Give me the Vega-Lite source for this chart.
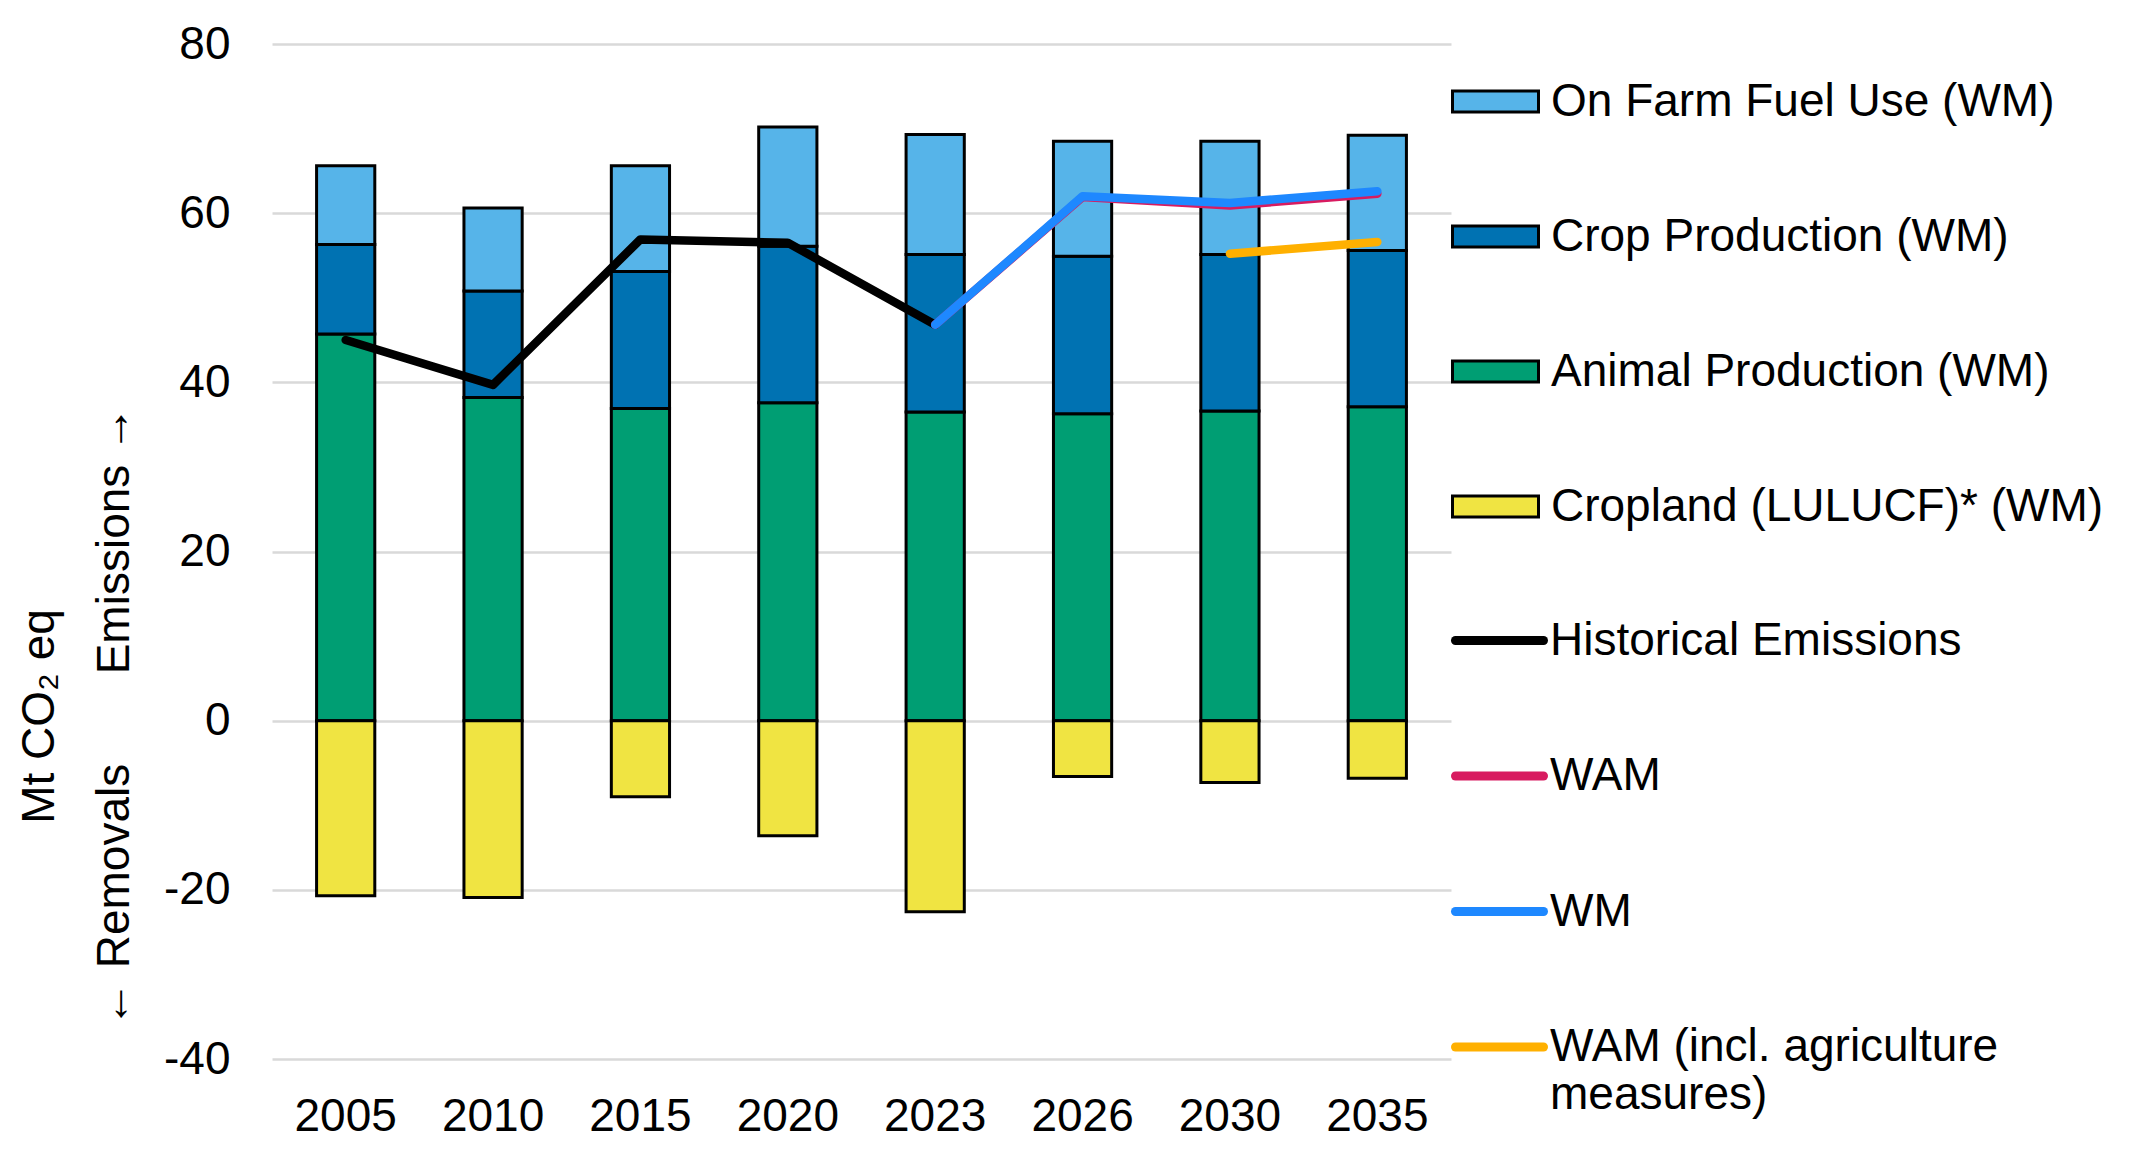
{
  "$schema": "https://vega.github.io/schema/vega-lite/v6.json",
  "autosize": "none",
  "width": 1179,
  "height": 1015,
  "padding": {"left": 272, "top": 44, "right": 694, "bottom": 96},
  "background": "white",
  "config": {
    "font": "Liberation Sans",
    "view": {"stroke": null},
    "axis": {"labelColor": "#000000", "titleColor": "#000000"},
    "legend": {"labelColor": "#000000"}
  },
  "datasets": {
    "bars": [
      {"year": "2005", "source": "Animal Production (WM)", "value": 45.7},
      {"year": "2005", "source": "Crop Production (WM)", "value": 10.6},
      {"year": "2005", "source": "On Farm Fuel Use (WM)", "value": 9.3},
      {"year": "2005", "source": "Cropland (LULUCF)* (WM)", "value": -20.7},
      {"year": "2010", "source": "Animal Production (WM)", "value": 38.2},
      {"year": "2010", "source": "Crop Production (WM)", "value": 12.6},
      {"year": "2010", "source": "On Farm Fuel Use (WM)", "value": 9.8},
      {"year": "2010", "source": "Cropland (LULUCF)* (WM)", "value": -20.9},
      {"year": "2015", "source": "Animal Production (WM)", "value": 36.9},
      {"year": "2015", "source": "Crop Production (WM)", "value": 16.2},
      {"year": "2015", "source": "On Farm Fuel Use (WM)", "value": 12.5},
      {"year": "2015", "source": "Cropland (LULUCF)* (WM)", "value": -9.0},
      {"year": "2020", "source": "Animal Production (WM)", "value": 37.6},
      {"year": "2020", "source": "Crop Production (WM)", "value": 18.5},
      {"year": "2020", "source": "On Farm Fuel Use (WM)", "value": 14.1},
      {"year": "2020", "source": "Cropland (LULUCF)* (WM)", "value": -13.6},
      {"year": "2023", "source": "Animal Production (WM)", "value": 36.5},
      {"year": "2023", "source": "Crop Production (WM)", "value": 18.6},
      {"year": "2023", "source": "On Farm Fuel Use (WM)", "value": 14.2},
      {"year": "2023", "source": "Cropland (LULUCF)* (WM)", "value": -22.6},
      {"year": "2026", "source": "Animal Production (WM)", "value": 36.3},
      {"year": "2026", "source": "Crop Production (WM)", "value": 18.6},
      {"year": "2026", "source": "On Farm Fuel Use (WM)", "value": 13.6},
      {"year": "2026", "source": "Cropland (LULUCF)* (WM)", "value": -6.6},
      {"year": "2030", "source": "Animal Production (WM)", "value": 36.6},
      {"year": "2030", "source": "Crop Production (WM)", "value": 18.5},
      {"year": "2030", "source": "On Farm Fuel Use (WM)", "value": 13.4},
      {"year": "2030", "source": "Cropland (LULUCF)* (WM)", "value": -7.3},
      {"year": "2035", "source": "Animal Production (WM)", "value": 37.1},
      {"year": "2035", "source": "Crop Production (WM)", "value": 18.5},
      {"year": "2035", "source": "On Farm Fuel Use (WM)", "value": 13.6},
      {"year": "2035", "source": "Cropland (LULUCF)* (WM)", "value": -6.8}
    ],
    "hist": [
      {"year": "2005", "series": "Historical Emissions", "value": 45.0},
      {"year": "2010", "series": "Historical Emissions", "value": 39.7},
      {"year": "2015", "series": "Historical Emissions", "value": 56.9},
      {"year": "2020", "series": "Historical Emissions", "value": 56.5},
      {"year": "2023", "series": "Historical Emissions", "value": 46.8}
    ],
    "wam": [
      {"year": "2023", "series": "WAM", "value": 46.8},
      {"year": "2026", "series": "WAM", "value": 61.9},
      {"year": "2030", "series": "WAM", "value": 60.9},
      {"year": "2035", "series": "WAM", "value": 62.3}
    ],
    "wm": [
      {"year": "2023", "series": "WM", "value": 46.8},
      {"year": "2026", "series": "WM", "value": 62.0},
      {"year": "2030", "series": "WM", "value": 61.2},
      {"year": "2035", "series": "WM", "value": 62.6}
    ],
    "agri": [
      {"year": "2030", "series": "WAM (incl. agriculture measures)", "value": 55.2},
      {"year": "2035", "series": "WAM (incl. agriculture measures)", "value": 56.6}
    ]
  },
  "layer": [
    {
      "data": {"name": "bars"},
      "mark": {"type": "bar", "stroke": "#000000", "strokeWidth": 3},
      "encoding": {
        "x": {
          "field": "year", "type": "ordinal",
          "scale": {"paddingInner": 0.605, "paddingOuter": 0.3025},
          "axis": {"title": null, "labelAngle": 0, "labelFontSize": 46, "labelPadding": 35, "domain": false, "ticks": false, "grid": false}
        },
        "y": {
          "field": "value", "type": "quantitative",
          "scale": {"domain": [-40, 80], "nice": false, "zero": false},
          "axis": {
            "values": [-40, -20, 0, 20, 40, 60, 80],
            "labelExpr": "'' + datum.value",
            "labelFontSize": 46,
            "labelPadding": 42,
            "domain": false,
            "ticks": false,
            "grid": true,
            "gridColor": "#d9d9d9",
            "gridWidth": 2.5,
            "title": ["Mt CO₂ eq", "← Removals\u00a0\u00a0\u00a0\u00a0\u00a0\u00a0\u00a0Emissions →"],
            "titleFontSize": 46,
            "titleFontWeight": "normal",
            "titleAngle": 270,
            "titleAlign": "center",
            "titleBaseline": "middle",
            "titleLineHeight": 75,
            "titleX": -233,
            "titleY": 672
          }
        },
        "fill": {
          "field": "source", "type": "nominal",
          "scale": {
            "domain": ["On Farm Fuel Use (WM)", "Crop Production (WM)", "Animal Production (WM)", "Cropland (LULUCF)* (WM)"],
            "range": ["#56B4E9", "#0072B2", "#009E73", "#F0E442"]
          },
          "legend": {
            "orient": "none", "legendX": 1179, "legendY": 13, "direction": "vertical",
            "title": null, "padding": 0,
            "labelFontSize": 46, "labelLimit": 700, "labelOffset": 11,
            "symbolType": "M-1,-0.244H1V0.244H-1Z", "symbolSize": 7396,
            "symbolStrokeColor": "#000000", "symbolStrokeWidth": 3, "symbolOpacity": 1,
            "rowPadding": 67
          }
        },
        "order": {"field": "source", "sort": "ascending"}
      }
    },
    {
      "mark": {"type": "rule", "color": "#000000", "strokeWidth": 3},
      "encoding": {"y": {"datum": 0, "type": "quantitative"}}
    },
    {
      "data": {"name": "hist"},
      "mark": {"type": "line", "strokeWidth": 8.5, "strokeCap": "round", "strokeJoin": "round"},
      "encoding": {
        "x": {"field": "year", "type": "ordinal"},
        "y": {"field": "value", "type": "quantitative"},
        "stroke": {
          "field": "series", "type": "nominal",
          "scale": {
            "domain": ["Historical Emissions", "WAM", "WM", "WAM (incl. agriculture measures)"],
            "range": ["#000000", "#D81B60", "#1E88FF", "#FFB000"]
          },
          "legend": {
            "orient": "none", "legendX": 1179, "legendY": 548, "direction": "vertical",
            "title": null, "padding": 0,
            "labelFontSize": 46, "labelLimit": 700, "labelOffset": 2,
            "symbolType": "stroke", "symbolSize": 7744, "symbolStrokeWidth": 9,
            "rowPadding": 63.5,
            "labelExpr": "datum.label == 'WAM (incl. agriculture measures)' ? ['WAM (incl. agriculture', 'measures)'] : datum.label",
            "encode": {
              "symbols": {"update": {"strokeCap": {"value": "round"}}},
              "labels": {"update": {
                "lineHeight": {"value": 48}
              }}
            }
          }
        }
      }
    },
    {
      "data": {"name": "wam"},
      "mark": {"type": "line", "strokeWidth": 8.5, "strokeCap": "round", "strokeJoin": "round"},
      "encoding": {
        "x": {"field": "year", "type": "ordinal"},
        "y": {"field": "value", "type": "quantitative"},
        "stroke": {"field": "series", "type": "nominal"}
      }
    },
    {
      "data": {"name": "wm"},
      "mark": {"type": "line", "strokeWidth": 8.5, "strokeCap": "round", "strokeJoin": "round"},
      "encoding": {
        "x": {"field": "year", "type": "ordinal"},
        "y": {"field": "value", "type": "quantitative"},
        "stroke": {"field": "series", "type": "nominal"}
      }
    },
    {
      "data": {"name": "agri"},
      "mark": {"type": "line", "strokeWidth": 8.5, "strokeCap": "round", "strokeJoin": "round"},
      "encoding": {
        "x": {"field": "year", "type": "ordinal"},
        "y": {"field": "value", "type": "quantitative"},
        "stroke": {"field": "series", "type": "nominal"}
      }
    }
  ]
}
